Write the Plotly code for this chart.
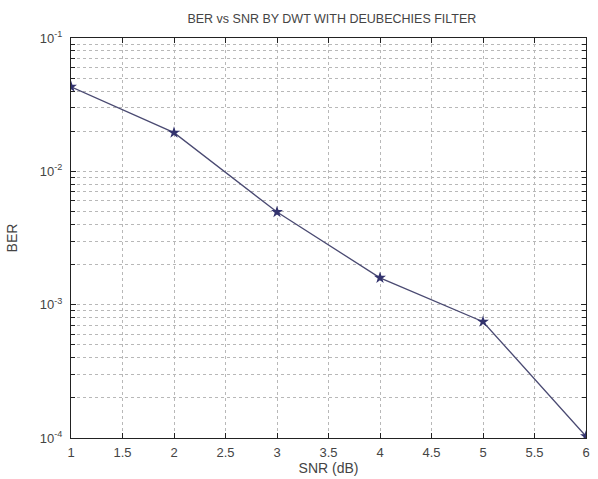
import plotly.graph_objects as go

snr = [1, 2, 3, 4, 5, 6]
ber = [0.0431, 0.0195, 0.00495, 0.00159, 0.000745, 0.000103]

xtick_vals = [1, 1.5, 2, 2.5, 3, 3.5, 4, 4.5, 5, 5.5, 6]
xtick_text = ["1", "1.5", "2", "2.5", "3", "3.5", "4", "4.5", "5", "5.5", "6"]
ytick_vals = [1e-4, 1e-3, 1e-2, 1e-1]
ytick_text = ["10<sup>-4</sup>", "10<sup>-3</sup>", "10<sup>-2</sup>", "10<sup>-1</sup>"]

fig = go.Figure()
fig.add_trace(go.Scatter(
    x=snr, y=ber, mode="lines+markers",
    line=dict(color="#4a4a72", width=1.3),
    marker=dict(symbol="star", size=9, color="#33336e", line=dict(width=0)),
    showlegend=False,
))

grid = "#b8b8b8"
fig.update_layout(
    width=598, height=479,
    margin=dict(l=71, r=8, t=38, b=41),
    paper_bgcolor="white", plot_bgcolor="white",
    font=dict(family="Liberation Sans, Arial, sans-serif", size=12, color="#444444"),
    title=dict(text="BER vs SNR BY DWT WITH DEUBECHIES FILTER", x=0.555, xanchor="center",
               y=0.962, yanchor="middle", font=dict(size=12.5, color="#444444")),
    xaxis=dict(
        range=[1, 6], tickvals=xtick_vals, ticktext=xtick_text,
        tickfont=dict(size=13),
        showgrid=True, gridcolor=grid, griddash="dot", gridwidth=1,
        showline=True, linecolor="#222222", linewidth=1, mirror="ticks",
        ticks="inside", ticklen=5, tickcolor="#222222", zeroline=False,
        ticklabelstandoff=2,
        title=dict(text="SNR (dB)", standoff=1),
    ),
    yaxis=dict(
        type="log", range=[-4, -1], tickvals=ytick_vals, ticktext=ytick_text,
        tickfont=dict(size=13),
        showgrid=True, gridcolor=grid, griddash="dot", gridwidth=1,
        showline=True, linecolor="#222222", linewidth=1, mirror="ticks",
        ticks="inside", ticklen=5, tickcolor="#222222", zeroline=False,
        ticklabelstandoff=5,
        minor=dict(tickvals=[m * 10 ** e for e in (-4, -3, -2) for m in range(2, 10)],
                   showgrid=True, gridcolor=grid, griddash="dot", gridwidth=1,
                   ticks="inside", ticklen=4, tickcolor="#222222"),
        title=dict(text="BER", standoff=18),
    ),
)
fig.write_html("out.html")
